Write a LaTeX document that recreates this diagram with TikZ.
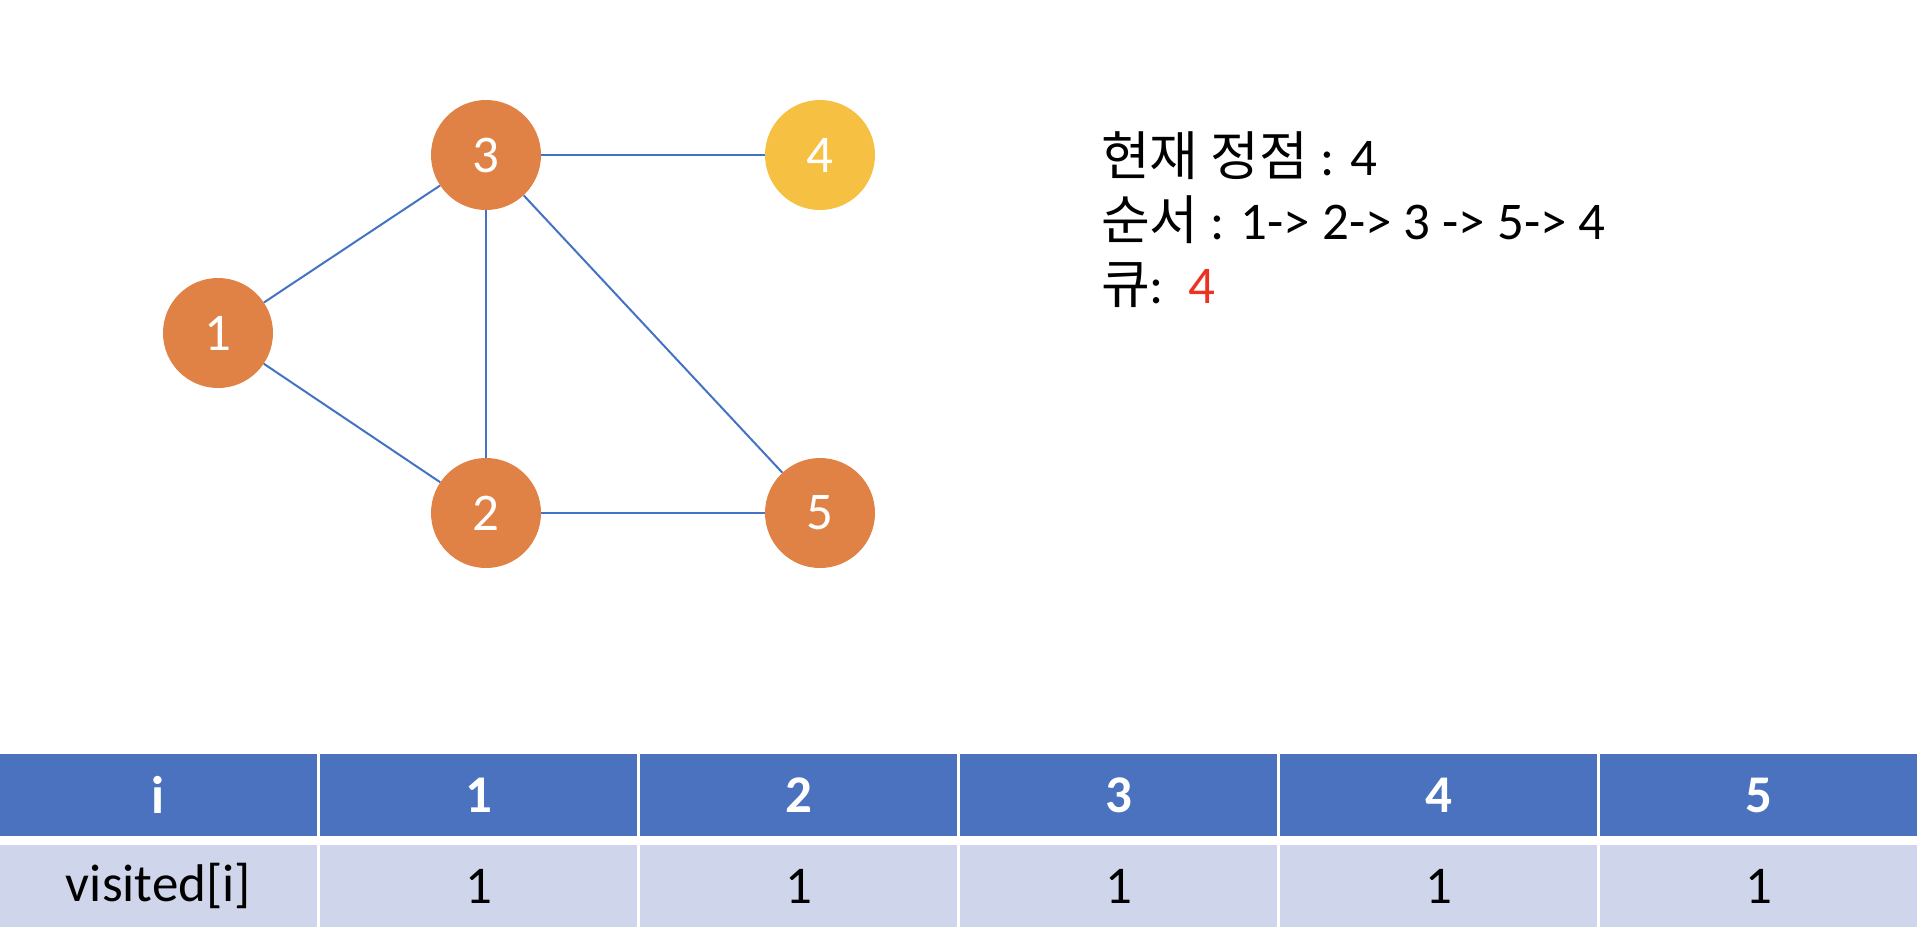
\documentclass[tikz,border=0pt]{standalone}
\usepackage{fontspec}
\setmainfont{Carlito}
\newfontfamily\kr{Noto Sans CJK KR}
\definecolor{edgeblue}{HTML}{4472C4}
\definecolor{vorange}{HTML}{E08245}
\definecolor{vyellow}{HTML}{F6C142}
\definecolor{hdrblue}{HTML}{4A72BE}
\definecolor{rowblue}{HTML}{CFD5EA}
\definecolor{qred}{HTML}{EA3323}
\tikzset{
  vertex/.style={circle, fill=vorange, minimum size=110pt, inner sep=0pt, text=white,
    font=\fontsize{53}{60}\selectfont},
  current/.style={vertex, fill=vyellow},
  edge/.style={draw=edgeblue, line width=2pt},
  hdr/.style={fill=hdrblue, minimum width=317pt, minimum height=82pt, inner sep=0pt,
    text=white, font=\fontsize{53}{60}\selectfont\bfseries},
  rowcell/.style={fill=rowblue, minimum width=317pt, minimum height=82pt, inner sep=0pt,
    text=black, font=\fontsize{53}{60}\selectfont},
  info/.style={anchor=base west, inner sep=0pt, font=\fontsize{53}{64}\selectfont}
}
\begin{document}
\begin{tikzpicture}[x=1pt,y=-1pt]
\useasboundingbox (0,0) rectangle (1932,938);
% graph vertices
\node[vertex]  (n1) at (218,333) {1};
\node[vertex]  (n3) at (486,155) {3};
\node[current] (n4) at (820,155) {4};
\node[vertex]  (n2) at (486,513) {2};
\node[vertex]  (n5) at (820,513) {5};
% edges
\draw[edge] (n1) -- (n3);
\draw[edge] (n1) -- (n2);
\draw[edge] (n3) -- (n2);
\draw[edge] (n3) -- (n4);
\draw[edge] (n3) -- (n5);
\draw[edge] (n2) -- (n5);
% info text
\node[info] (t1) at (1101,175) {{\kr 현재 정점} : 4};
\node[info] (t2) at (1101,239) {{\kr 순서} : 1-> 2-> 3 -> 5-> 4};
\node[info] (t3) at (1101,303) {{\kr 큐}:\ \ \textcolor{qred}{4}};
% table
\node[hdr] (h0) at (158.5,795) {i};
\node[hdr] (h1) at (478.5,795) {1};
\node[hdr] (h2) at (798.5,795) {2};
\node[hdr] (h3) at (1118.5,795) {3};
\node[hdr] (h4) at (1438.5,795) {4};
\node[hdr] (h5) at (1758.5,795) {5};
\node[rowcell] (r0) at (158.5,886) {visited[i]};
\node[rowcell] (r1) at (478.5,886) {1};
\node[rowcell] (r2) at (798.5,886) {1};
\node[rowcell] (r3) at (1118.5,886) {1};
\node[rowcell] (r4) at (1438.5,886) {1};
\node[rowcell] (r5) at (1758.5,886) {1};
\end{tikzpicture}
\end{document}
